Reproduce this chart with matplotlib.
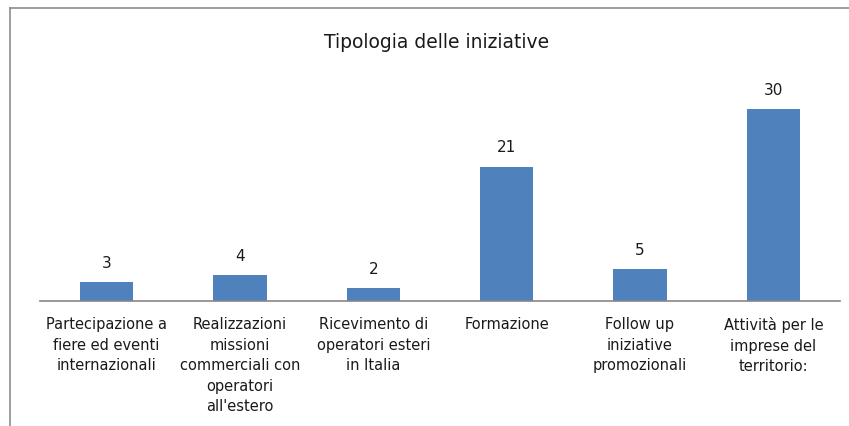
import matplotlib
matplotlib.use("Agg")
import matplotlib.pyplot as plt
from matplotlib.lines import Line2D

categories = [
    "Partecipazione a\nfiere ed eventi\ninternazionali",
    "Realizzazioni\nmissioni\ncommerciali con\noperatori\nall'estero",
    "Ricevimento di\noperatori esteri\nin Italia",
    "Formazione",
    "Follow up\niniziative\npromozionali",
    "Attività per le\nimprese del\nterritorio:",
]
values = [3, 4, 2, 21, 5, 30]
title = "Tipologia delle iniziative"

plt.rcParams['font.family'] = ['DejaVu Sans']

W, H = 849, 427
fig = plt.figure(figsize=(W / 100, H / 100), dpi=100)
fig.patch.set_facecolor("white")

# outer chart border
fig.add_artist(Line2D([10 / W, 10 / W], [0, 1 - 9 / H], color="#8c8c8c", lw=1.2, transform=fig.transFigure))
fig.add_artist(Line2D([10 / W, 1], [1 - 9 / H, 1 - 9 / H], color="#8c8c8c", lw=1.2, transform=fig.transFigure))

ax = fig.add_axes([40 / W, (H - 302) / H, 800 / W, 232 / H])
x = list(range(len(values)))
ax.bar(x, values, width=0.4, color="#4F81BD", zorder=2)
ax.set_xlim(-0.5, len(values) - 0.5)
ax.set_ylim(0, 36.25)
for xi, v in zip(x, values):
    ax.text(xi, v + 1.9, str(v), ha="center", va="bottom", fontsize=11, color="#1a1a1a")

for s in ["top", "right", "left"]:
    ax.spines[s].set_visible(False)
ax.spines["bottom"].set_color("#868686")
ax.spines["bottom"].set_linewidth(1.2)
ax.set_yticks([])
ax.set_xticks(x)
ax.set_xticklabels(categories, fontsize=10.5, linespacing=1.46, va="top", color="#1a1a1a")
ax.tick_params(axis="x", length=0, pad=11)

fig.text(437 / W, 1 - 42 / H, title, ha="center", va="center", fontsize=13.5, color="#1a1a1a")

fig.savefig("out.png", dpi=100)
